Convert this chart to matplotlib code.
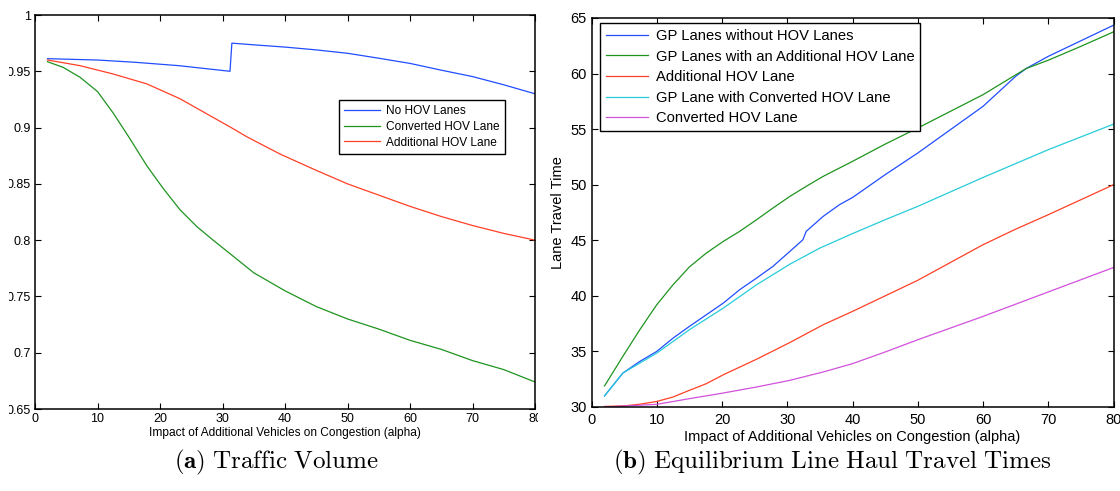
import matplotlib
matplotlib.use("Agg")
import matplotlib.pyplot as plt
from matplotlib.patches import Rectangle

# ---------------- data: panel (a) Traffic Volume ----------------
a_blue_x = [2, 10, 16, 23, 31.2, 31.5, 35, 40, 45, 50, 55, 60, 65, 70, 75, 80]
a_blue_y = [0.9612, 0.960, 0.958, 0.955, 0.950, 0.975, 0.9735, 0.9715, 0.969,
            0.966, 0.9616, 0.957, 0.951, 0.9453, 0.938, 0.930]

a_green_x = [2, 4.5, 7.2, 10, 12.5, 15.2, 17.9, 20.5, 23.2, 25.9, 28.5, 31.2,
             35, 40, 45, 50, 55, 60, 65, 70, 75, 80]
a_green_y = [0.9585, 0.9535, 0.9447, 0.932, 0.913, 0.890, 0.866, 0.846, 0.827,
             0.812, 0.800, 0.788, 0.771, 0.755, 0.741, 0.730, 0.721, 0.711,
             0.703, 0.693, 0.685, 0.674]

a_red_x = [2, 7.2, 12.5, 17.9, 23.2, 28.5, 31.2, 33.9, 39.2, 45, 50, 55, 60,
           65, 70, 75, 80]
a_red_y = [0.960, 0.955, 0.9476, 0.9388, 0.9256, 0.909, 0.9006, 0.8918,
           0.8765, 0.862, 0.850, 0.840, 0.830, 0.821, 0.813, 0.806, 0.800]

a_labels = ["No HOV Lanes", "Converted HOV Lane", "Additional HOV Lane"]
a_yticks = [0.65, 0.7, 0.75, 0.8, 0.85, 0.9, 0.95, 1]
a_yticklabels = ["0.65", "0.7", "0.75", "0.8", "0.85", "0.9", "0.95", "1"]
xticks = [0, 10, 20, 30, 40, 50, 60, 70, 80]

# ---------------- data: panel (b) Equilibrium Line Haul Travel Times ----------------
b_gp_x = [2, 4.8, 7.4, 10, 12.5, 15, 17.6, 20.2, 22.7, 25.3, 27.8, 30.4, 32.4,
          32.9, 35.5, 38, 40, 45, 50, 55, 60, 65, 66.6, 70, 75, 80]
b_gp_y = [31.0, 33.05, 34.1, 35.0, 36.2, 37.25, 38.3, 39.35, 40.55, 41.6,
          42.65, 44.0, 45.05, 45.8, 47.15, 48.2, 48.85, 50.9, 52.85, 54.95,
          57.05, 59.75, 60.45, 61.55, 62.95, 64.35]

b_gpadd_x = [2, 4.8, 7.4, 10, 12.5, 15, 17.6, 20.2, 22.7, 25.3, 27.8, 30.4,
             32.9, 35.5, 38, 40, 45, 50, 55, 60, 66.6, 70, 75, 80]
b_gpadd_y = [31.9, 34.55, 36.95, 39.2, 41.0, 42.6, 43.85, 44.9, 45.8, 46.85,
             47.9, 48.95, 49.85, 50.75, 51.5, 52.1, 53.65, 55.1, 56.6, 58.1,
             60.45, 61.2, 62.45, 63.75]

b_add_x = [2, 5, 7.4, 10, 12.5, 15, 17.6, 20.2, 25.3, 30.4, 35.5, 40, 45, 50,
           55, 60, 65, 70, 75, 80]
b_add_y = [30.05, 30.1, 30.25, 30.5, 30.9, 31.5, 32.1, 32.9, 34.3, 35.8, 37.4,
           38.6, 40.0, 41.4, 43.0, 44.6, 46.0, 47.3, 48.65, 50.0]

b_gpconv_x = [2, 4.8, 10, 15, 20.2, 25.3, 30.4, 35, 40, 45, 50, 55, 60, 65, 70,
              75, 80]
b_gpconv_y = [31.0, 33.05, 34.85, 36.95, 38.9, 41.0, 42.85, 44.3, 45.6, 46.85,
              48.05, 49.35, 50.65, 51.9, 53.15, 54.3, 55.45]

b_conv_x = [2, 10, 15, 20.2, 25.3, 30.4, 35.5, 40, 45, 50, 55, 60, 65, 70, 75, 80]
b_conv_y = [30.0, 30.24, 30.75, 31.26, 31.8, 32.4, 33.15, 33.9, 34.95, 36.05,
            37.1, 38.15, 39.25, 40.35, 41.45, 42.55]

b_labels = ["GP Lanes without HOV Lanes", "GP Lanes with an Additional HOV Lane",
            "Additional HOV Lane", "GP Lane with Converted HOV Lane",
            "Converted HOV Lane"]
b_yticks = [30, 35, 40, 45, 50, 55, 60, 65]

captions = [r"$\mathbf{(a)}$ $\mathrm{Traffic\ Volume}$",
            r"$\mathbf{(b)}$ $\mathrm{Equilibrium\ Line\ Haul\ Travel\ Times}$"]
xlabel = "Impact of Additional Vehicles on Congestion (alpha)"
b_ylabel = "Lane Travel Time"

# ---------------- style ----------------
BLUE = (0.13, 0.30, 1.0)
GREEN = (0.12, 0.58, 0.12)
RED = (1.0, 0.25, 0.15)
CYAN = (0.15, 0.80, 0.85)
MAGENTA = (0.82, 0.32, 0.86)

plt.rcParams["font.family"] = ["Liberation Sans", "DejaVu Sans"]
plt.rcParams["mathtext.fontset"] = "cm"

W, H = 1120, 491
fig = plt.figure(figsize=(W / 100, H / 100), dpi=100)


def style_axes(ax, fs, pad):
    for s in ax.spines.values():
        s.set_linewidth(1.1)
        s.set_color("black")
    ax.tick_params(direction="in", length=4, width=0.8, top=True, right=True,
                   labelsize=fs, pad=pad, colors="black")


# panel (a)
axa = fig.add_axes([35 / W, 1 - 409 / H, 500 / W, 394 / H])
lw = 0.9
axa.plot(a_blue_x, a_blue_y, color=BLUE, lw=lw, label=a_labels[0])
axa.plot(a_green_x, a_green_y, color=GREEN, lw=lw, label=a_labels[1])
axa.plot(a_red_x, a_red_y, color=RED, lw=lw, label=a_labels[2])
axa.set_xlim(0, 80)
axa.set_ylim(0.65, 1)
axa.set_xticks(xticks)
axa.set_yticks(a_yticks)
axa.set_yticklabels(a_yticklabels)
style_axes(axa, 9, 3)
axa.set_xlabel(xlabel, fontsize=8.6, labelpad=1)
leg = axa.legend(loc="upper right", bbox_to_anchor=(0.94, 0.784), borderaxespad=0,
                 fontsize=8.6, frameon=True, fancybox=False, edgecolor="black",
                 framealpha=1, handlelength=3.0, handletextpad=0.5,
                 labelspacing=0.3, borderpad=0.45)
leg.get_frame().set_linewidth(1.0)

# panel (b)
axb = fig.add_axes([591.5 / W, 1 - 407 / H, 522 / W, 389 / H])
axb.plot(b_gp_x, b_gp_y, color=BLUE, lw=lw, label=b_labels[0])
axb.plot(b_gpadd_x, b_gpadd_y, color=GREEN, lw=lw, label=b_labels[1])
axb.plot(b_add_x, b_add_y, color=RED, lw=lw, label=b_labels[2])
axb.plot(b_gpconv_x, b_gpconv_y, color=CYAN, lw=lw, label=b_labels[3])
axb.plot(b_conv_x, b_conv_y, color=MAGENTA, lw=lw, label=b_labels[4])
axb.set_xlim(0, 80)
axb.set_ylim(30, 65)
axb.set_xticks(xticks)
axb.set_yticks(b_yticks)
style_axes(axb, 10.5, 4.5)
axb.tick_params(axis="y", pad=3.5)
axb.set_xlabel(xlabel, fontsize=10.5, labelpad=2)
axb.set_ylabel(b_ylabel, fontsize=10.5, labelpad=4)
legb = axb.legend(loc="upper left", bbox_to_anchor=(0.016, 0.987), borderaxespad=0,
                  fontsize=10.6, frameon=True, fancybox=False, edgecolor="black",
                  framealpha=1, handlelength=2.9, handletextpad=0.5,
                  labelspacing=0.45, borderpad=0.4)
legb.get_frame().set_linewidth(1.0)

# captions
fig.text(276 / W, 1 - 462 / H, captions[0], ha="center", va="center", fontsize=18)
fig.text(832 / W, 1 - 462 / H, captions[1], ha="center", va="center", fontsize=18)

# white masks imitating the cropped sub-figure edges
fig.add_artist(Rectangle((0, 0), 8.5 / W, 1, transform=fig.transFigure,
                         facecolor="white", edgecolor="none", zorder=10))
fig.add_artist(Rectangle((538 / W, 1 - 430 / H), 8 / W, 20 / H,
                         transform=fig.transFigure, facecolor="white",
                         edgecolor="none", zorder=10))

fig.savefig("out.png", dpi=100, facecolor="white")
